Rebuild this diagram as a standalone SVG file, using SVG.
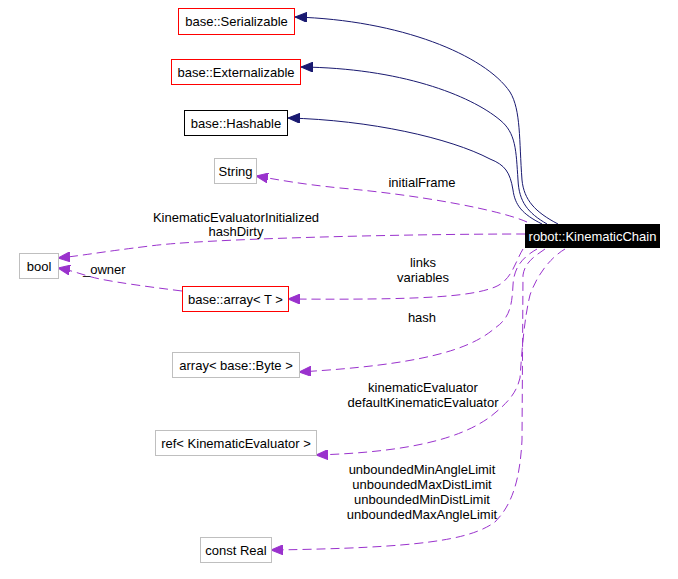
<svg xmlns="http://www.w3.org/2000/svg" width="678" height="579" viewBox="0 0 678 579">
<style>
text{font-family:"Liberation Sans",Arial,sans-serif;font-size:13px;fill:#000}
.c{text-anchor:middle}
.box{fill:#fff;stroke-width:1}
.red{stroke:#ff0000}
.grey{stroke:#bfbfbf}
.blk{stroke:#000}
.inh{fill:none;stroke:#191970;stroke-width:1;marker-end:url(#ab)}
.use{fill:none;stroke:#9a32cd;stroke-width:1;stroke-dasharray:9,5;marker-end:url(#ap)}
</style>
<defs>
<marker id="ab" markerUnits="userSpaceOnUse" markerWidth="12" markerHeight="10" refX="12" refY="5" orient="auto"><polygon points="0,0 12,5 0,10" fill="#191970" stroke="#191970"/></marker>
<marker id="ap" markerUnits="userSpaceOnUse" markerWidth="12" markerHeight="10" refX="12" refY="5" orient="auto"><polygon points="0,0 12,5 0,10" fill="#9a32cd" stroke="#9a32cd"/></marker>
</defs>
<rect width="678" height="579" fill="#fff"/>
<g id="connectors">
<path class="inh" d="M558,224 C535,212 524,200 522,180 C519,140 521,110 510,92 C485,55 400,20 295,17"/>
<path class="inh" d="M547,224 C528,213 519,202 518,180 C516,150 516,133 500,120 C470,95 400,68 301,67"/>
<path class="inh" d="M542,224 C522,214 515,205 513,190 C510,172 505,165 490,159 C450,138 370,120 288,118"/>
<path class="use" d="M527,222 C500,210 420,195 340,188 C300,184 280,180 256,176"/>
<path class="use" d="M525,234 C400,234 200,239 150,246 C100,252 80,256 58,258"/>
<path class="use" d="M182,291 C150,287 120,283 100,279 C85,276 75,271 58,268"/>
<path class="use" d="M523,249 C515,262 512,280 495,287 C470,297 420,300 288,299"/>
<path class="use" d="M537,249 C525,256 514,265 513,285 C512,305 510,318 495,328 C470,350 420,365 299,372"/>
<path class="use" d="M565,249 C550,258 537,275 530,295 C524,320 522,350 520,378 C516,395 505,405 490,417 C465,435 420,452 316,455"/>
<path class="use" d="M545,249 C535,256 525,262 523,275 L522,440 C520,480 512,505 495,522 C470,540 420,548 271,550"/>
<text class="c" x="422" y="187">initialFrame</text>
<text class="c" x="236" y="222">KinematicEvaluatorInitialized</text>
<text class="c" x="236" y="236">hashDirty</text>
<text x="83" y="274">_owner</text>
<text class="c" x="423" y="267">links</text>
<text class="c" x="423" y="282">variables</text>
<text class="c" x="422" y="322">hash</text>
<text class="c" x="423" y="392">kinematicEvaluator</text>
<text class="c" x="423" y="407">defaultKinematicEvaluator</text>
<text class="c" x="422" y="474">unboundedMinAngleLimit</text>
<text class="c" x="422" y="489">unboundedMaxDistLimit</text>
<text class="c" x="422" y="504">unboundedMinDistLimit</text>
<text class="c" x="422" y="519">unboundedMaxAngleLimit</text>
</g>
<g id="node-kinematicchain"><rect x="525" y="224" width="135" height="24" fill="#000"/><text class="c" x="592.5" y="241" style="fill:#fff">robot::KinematicChain</text></g>
<g id="node-serializable"><rect class="box red" x="178.5" y="8.5" width="116" height="26"/><text class="c" x="236.5" y="26">base::Serializable</text></g>
<g id="node-externalizable"><rect class="box red" x="171.5" y="59.5" width="129" height="25"/><text class="c" x="236" y="76.5">base::Externalizable</text></g>
<g id="node-hashable"><rect class="box blk" x="184.5" y="110.5" width="103" height="25"/><text class="c" x="236" y="127.5">base::Hashable</text></g>
<g id="node-string"><rect class="box grey" x="214.5" y="158.5" width="42" height="25"/><text class="c" x="235.5" y="175.5">String</text></g>
<g id="node-bool"><rect class="box grey" x="19.5" y="253.5" width="39" height="25"/><text class="c" x="39" y="270.5">bool</text></g>
<g id="node-basearray"><rect class="box red" x="182.5" y="286.5" width="106" height="25"/><text class="c" x="235.5" y="303.5">base::array&lt; T &gt;</text></g>
<g id="node-bytearray"><rect class="box grey" x="172.5" y="352.5" width="127" height="25"/><text class="c" x="236" y="369.5">array&lt; base::Byte &gt;</text></g>
<g id="node-refke"><rect class="box grey" x="155.5" y="430.5" width="161" height="25"/><text class="c" x="236" y="447.5">ref&lt; KinematicEvaluator &gt;</text></g>
<g id="node-constreal"><rect class="box grey" x="200.5" y="537.5" width="71" height="25"/><text class="c" x="236" y="554.5">const Real</text></g>
</svg>
